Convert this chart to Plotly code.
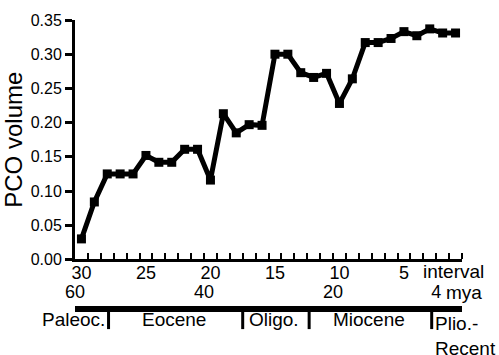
import plotly.graph_objects as go

# ---- data ----
intervals = list(range(30, 0, -1))
pco_volume = [0.030, 0.084, 0.125, 0.125, 0.125, 0.152, 0.142, 0.142, 0.161, 0.161,
              0.116, 0.213, 0.185, 0.197, 0.196, 0.300, 0.300, 0.273, 0.266, 0.272,
              0.228, 0.264, 0.317, 0.317, 0.323, 0.333, 0.327, 0.337, 0.331, 0.331]
interval_ticks = [30, 25, 20, 15, 10, 5]
age_ticks = [60, 40, 20, 4]
age_tick_text = ["60", "40", "20", "4"]
epoch_boundaries = [54.8, 34.0, 23.7, 4.7]
epoch_names = ["Eocene", "Oligo.", "Miocene"]
epoch_label_ages = [44.6, 29.1, 14.4]

FONT = "Liberation Sans, Arial, sans-serif"
BAR_POS = 0.0812

fig = go.Figure()
fig.add_trace(go.Scatter(
    x=intervals, y=pco_volume, mode="lines+markers",
    line=dict(color="black", width=5),
    marker=dict(symbol="square", size=9, color="black"),
    cliponaxis=False, showlegend=False,
))
# invisible trace to activate the age axis
fig.add_trace(go.Scatter(x=[60, 0], y=[None, None], xaxis="x2", yaxis="y",
                         mode="markers", showlegend=False, hoverinfo="skip"))

fig.update_layout(
    width=499, height=355,
    margin=dict(l=75, r=37, t=15, b=20),
    plot_bgcolor="white", paper_bgcolor="white",
    font=dict(family=FONT, color="black"),
    xaxis=dict(
        range=[30.5, 0.5], domain=[0, 1], anchor="y",
        tickmode="array", tickvals=interval_ticks,
        ticks="", ticklen=0, showgrid=False, zeroline=False,
        showline=True, linecolor="black", linewidth=3,
        tickfont=dict(size=18), ticklabelstandoff=-5,
        minor=dict(tickmode="array",
                   tickvals=[v + 0.5 for v in range(0, 30)],
                   ticks="inside", ticklen=6, tickwidth=2, tickcolor="black",
                   showgrid=False),
    ),
    xaxis2=dict(
        range=[60, 0], overlaying="x", anchor="free", position=BAR_POS,
        side="top", tickmode="array", tickvals=age_ticks, ticktext=age_tick_text,
        ticks="", showgrid=False, zeroline=False,
        showline=True, linecolor="black", linewidth=6,
        tickfont=dict(size=18),
    ),
    yaxis=dict(
        range=[0, 0.35], domain=[0.2375, 1],
        tickmode="array", tickvals=[0, 0.05, 0.10, 0.15, 0.20, 0.25, 0.30, 0.35],
        tickformat=".2f", ticks="outside", ticklen=7, tickwidth=2.5, tickcolor="black",
        showgrid=False, zeroline=False,
        showline=True, linecolor="black", linewidth=3,
        tickfont=dict(size=16),
        title=dict(text="PCO volume", font=dict(size=24), standoff=2),
    ),
)

# epoch boundary lines
for a in epoch_boundaries:
    fig.add_shape(type="line", xref="x2", yref="paper", x0=a, x1=a,
                  y0=BAR_POS, y1=0.0156, line=dict(color="black", width=3))

# epoch labels
fig.add_annotation(x=epoch_boundaries[0], y=0.047, xref="x2", yref="paper",
                   text="Paleoc.", showarrow=False, xanchor="right", yanchor="middle",
                   xshift=-2, font=dict(size=19))
for name, a in zip(epoch_names, epoch_label_ages):
    fig.add_annotation(x=a, y=0.047, xref="x2", yref="paper", text=name,
                       showarrow=False, xanchor="center", yanchor="middle",
                       font=dict(size=19))
fig.add_annotation(x=epoch_boundaries[-1], y=0.074, xref="x2", yref="paper",
                   text="Plio.-<br>Recent", showarrow=False, xanchor="left",
                   yanchor="top", align="left", xshift=1, font=dict(size=19))

fig.add_annotation(x=4, y=0, xref="x", yref="y", text="interval", showarrow=False,
                   xanchor="left", yanchor="top", yshift=0, xshift=4,
                   font=dict(size=19))
fig.add_annotation(x=4, y=0.093, xref="x2", yref="paper", text="mya", showarrow=False,
                   xanchor="left", yanchor="bottom", xshift=8, font=dict(size=19))

fig.write_html("out.html")
